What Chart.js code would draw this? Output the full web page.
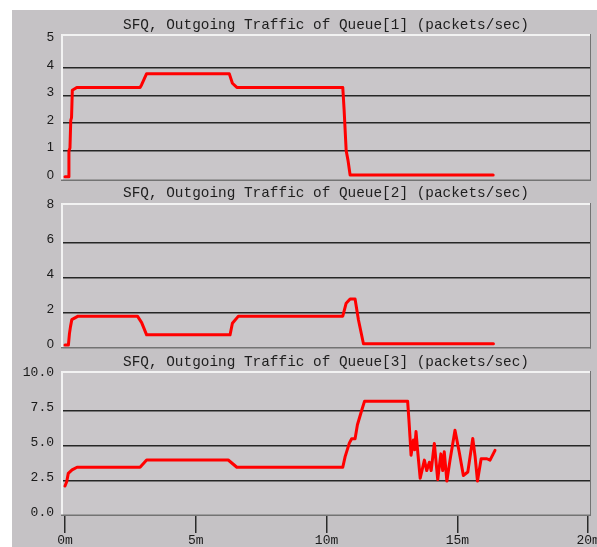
<!DOCTYPE html>
<html><head><meta charset="utf-8">
<script src="https://cdn.jsdelivr.net/npm/chart.js@4.4.1/dist/chart.umd.min.js"></script>
<style>
html,body{margin:0;padding:0;background:#fff;}
body{width:597px;height:547px;position:relative;overflow:hidden;}
#bg{position:absolute;left:12px;top:10px;width:585px;height:537px;background:#c5c2c5;}
canvas{position:absolute;left:12px;}
.title{position:absolute;left:61px;width:530px;text-align:center;font-family:'Liberation Mono','Courier New',monospace;font-size:14.4px;line-height:16px;color:#1e1e1e;white-space:nowrap;}
</style></head><body>
<div id="bg"></div>
<canvas id="c1" width="585" height="178" style="top:12px;width:585px;height:178px"></canvas>
<canvas id="c2" width="585" height="170" style="top:190px;width:585px;height:170px"></canvas>
<canvas id="c3" width="585" height="187" style="top:360px;width:585px;height:187px"></canvas>
<div class="title" style="top:17px">SFQ, Outgoing Traffic of Queue[1] (packets/sec)</div>
<div class="title" style="top:185px">SFQ, Outgoing Traffic of Queue[2] (packets/sec)</div>
<div class="title" style="top:354px">SFQ, Outgoing Traffic of Queue[3] (packets/sec)</div>
<script>
// ---- data (time in minutes, rate in packets/sec) ----
const q1Time = [0,0.12,0.15,0.19,0.22,0.25,0.28,0.45,2.87,2.93,3.12,6.28,6.4,6.57,10.62,10.67,10.71,10.75,10.82,10.9,16.37];
const q1Rate = [0.05,0.05,1.0,1.1,2.1,2.2,3.2,3.3,3.3,3.4,3.8,3.8,3.45,3.3,3.3,2.5,1.75,1.0,0.65,0.12,0.12];

const q2Time = [0,0.13,0.17,0.21,0.26,0.5,2.77,2.93,3.02,3.12,6.31,6.4,6.63,10.62,10.75,10.9,11.09,11.22,11.41,16.38];
const q2Rate = [0.15,0.15,0.8,1.2,1.6,1.8,1.8,1.43,1.1,0.73,0.73,1.39,1.8,1.8,2.54,2.78,2.78,1.58,0.22,0.22];

const q3Time = [0,0.065,0.126,0.27,0.46,2.87,3.12,6.24,6.57,10.62,10.71,10.87,10.96,11.09,11.18,11.35,11.45,13.1,13.15,13.19,13.23,13.32,13.37,13.42,13.49,13.58,13.74,13.83,13.93,14.0,14.12,14.25,14.37,14.44,14.5,14.6,14.72,14.91,15.07,15.23,15.4,15.59,15.68,15.77,15.91,16.13,16.25,16.44];
const q3Rate = [2.09,2.4,3.0,3.25,3.44,3.44,3.96,3.96,3.44,3.44,4.2,5.17,5.48,5.48,6.49,7.57,8.17,8.17,6.8,5.6,4.3,5.4,4.7,6.0,4.45,2.65,3.95,3.2,3.8,3.2,5.15,2.55,4.4,3.2,4.55,2.45,3.95,6.1,4.55,2.85,3.1,5.5,4.2,2.45,4.05,4.05,3.95,4.65];

const xTickValues = [0,5,10,15,20];
const xTickLabels = ['0m','5m','10m','15m','20m'];
const y1Ticks = [0,1,2,3,4,5];
const y1Labels = ['0','1','2','3','4','5'];
const y2Ticks = [0,2,4,6,8];
const y2Labels = ['0','2','4','6','8'];
const y3Ticks = [0,2.5,5,7.5,10];
const y3Labels = ['0.0','2.5','5.0','7.5','10.0'];

// ---- styling ----
const PLOT_BG = '#c9c6c9';
const GRID = '#262626';
const TXT = '#1a1a1a';
const X_MIN = -0.153, X_MAX = 20.11;

const plotFrame = {
  id: 'plotFrame',
  beforeDraw(chart) {
    const {ctx, chartArea: a} = chart;
    ctx.save();
    ctx.fillStyle = PLOT_BG;
    ctx.fillRect(a.left, a.top, a.right - a.left, a.bottom - a.top);
    ctx.restore();
  },
  afterDraw(chart) {
    const {ctx, chartArea: a} = chart;
    ctx.save();
    ctx.fillStyle = '#f2f2f2';
    ctx.fillRect(a.left, a.top, a.right - a.left, 2);
    ctx.fillRect(a.left, a.top, 2, a.bottom - a.top);
    ctx.fillStyle = '#737373';
    ctx.fillRect(a.right - 1, a.top, 1, a.bottom - a.top);
    ctx.fillRect(a.left, a.bottom - 1.5, a.right - a.left, 1.5);
    ctx.restore();
  }
};

function yScale(min, max, ticks, labels, family) {
  return {
    type: 'linear', min, max,
    afterBuildTicks(s) { s.ticks = ticks.map(v => ({value: v})); },
    afterFit(s) { s.width = 49; s.paddingTop = 0; s.paddingBottom = 0; },
    ticks: {
      callback: (v, i) => labels[i],
      padding: 7, labelOffset: -3, color: TXT,
      font: {family, size: 13}
    },
    grid: {
      drawTicks: false,
      color: c => (c.tick && c.tick.value > ticks[0] && c.tick.value < ticks[ticks.length - 1]) ? GRID : 'rgba(0,0,0,0)',
      lineWidth: 1.6
    },
    border: {display: false}
  };
}

function xScale(show) {
  return {
    type: 'linear', min: X_MIN, max: X_MAX, display: show,
    afterBuildTicks(s) { s.ticks = xTickValues.map(v => ({value: v})); },
    afterFit(s) { if (show) { s.height = 31; } s.paddingLeft = 0; s.paddingRight = 0; },
    ticks: {
      callback: (v, i) => xTickLabels[i],
      padding: 0, maxRotation: 0, autoSkip: false, color: TXT,
      font: {family: "'Liberation Mono', monospace", size: 13}
    },
    grid: {drawOnChartArea: false, drawTicks: true, tickLength: 17, color: '#2a2a2a', lineWidth: 1.5},
    border: {display: false}
  };
}

function makeChart(id, times, rates, yOpts, showX, pad) {
  return new Chart(document.getElementById(id), {
    type: 'line',
    data: {
      datasets: [{
        data: times.map((t, i) => ({x: t, y: rates[i]})),
        borderColor: '#ff0000', borderWidth: 3, borderJoinStyle: 'round', borderCapStyle: 'round',
        pointRadius: 0, tension: 0, fill: false
      }]
    },
    options: {
      responsive: false, animation: false, devicePixelRatio: 1,
      layout: {padding: pad},
      plugins: {legend: {display: false}, tooltip: {enabled: false}, title: {display: false}},
      scales: {x: xScale(showX), y: yOpts}
    },
    plugins: [plotFrame]
  });
}

const sans = "'Liberation Sans', Arial, sans-serif";
const mono = "'Liberation Mono', monospace";
makeChart('c1', q1Time, q1Rate, yScale(-0.1, 5.24, y1Ticks, y1Labels, sans), false, {top: 22, bottom: 9, left: 0, right: 6});
makeChart('c2', q2Time, q2Rate, yScale(-0.05, 8.27, y2Ticks, y2Labels, sans), false, {top: 13, bottom: 11.5, left: 0, right: 6});
makeChart('c3', q3Time, q3Rate, yScale(-0.06, 10.35, y3Ticks, y3Labels, mono), true, {top: 11, bottom: 0, left: 0, right: 6});
</script>
</body></html>
